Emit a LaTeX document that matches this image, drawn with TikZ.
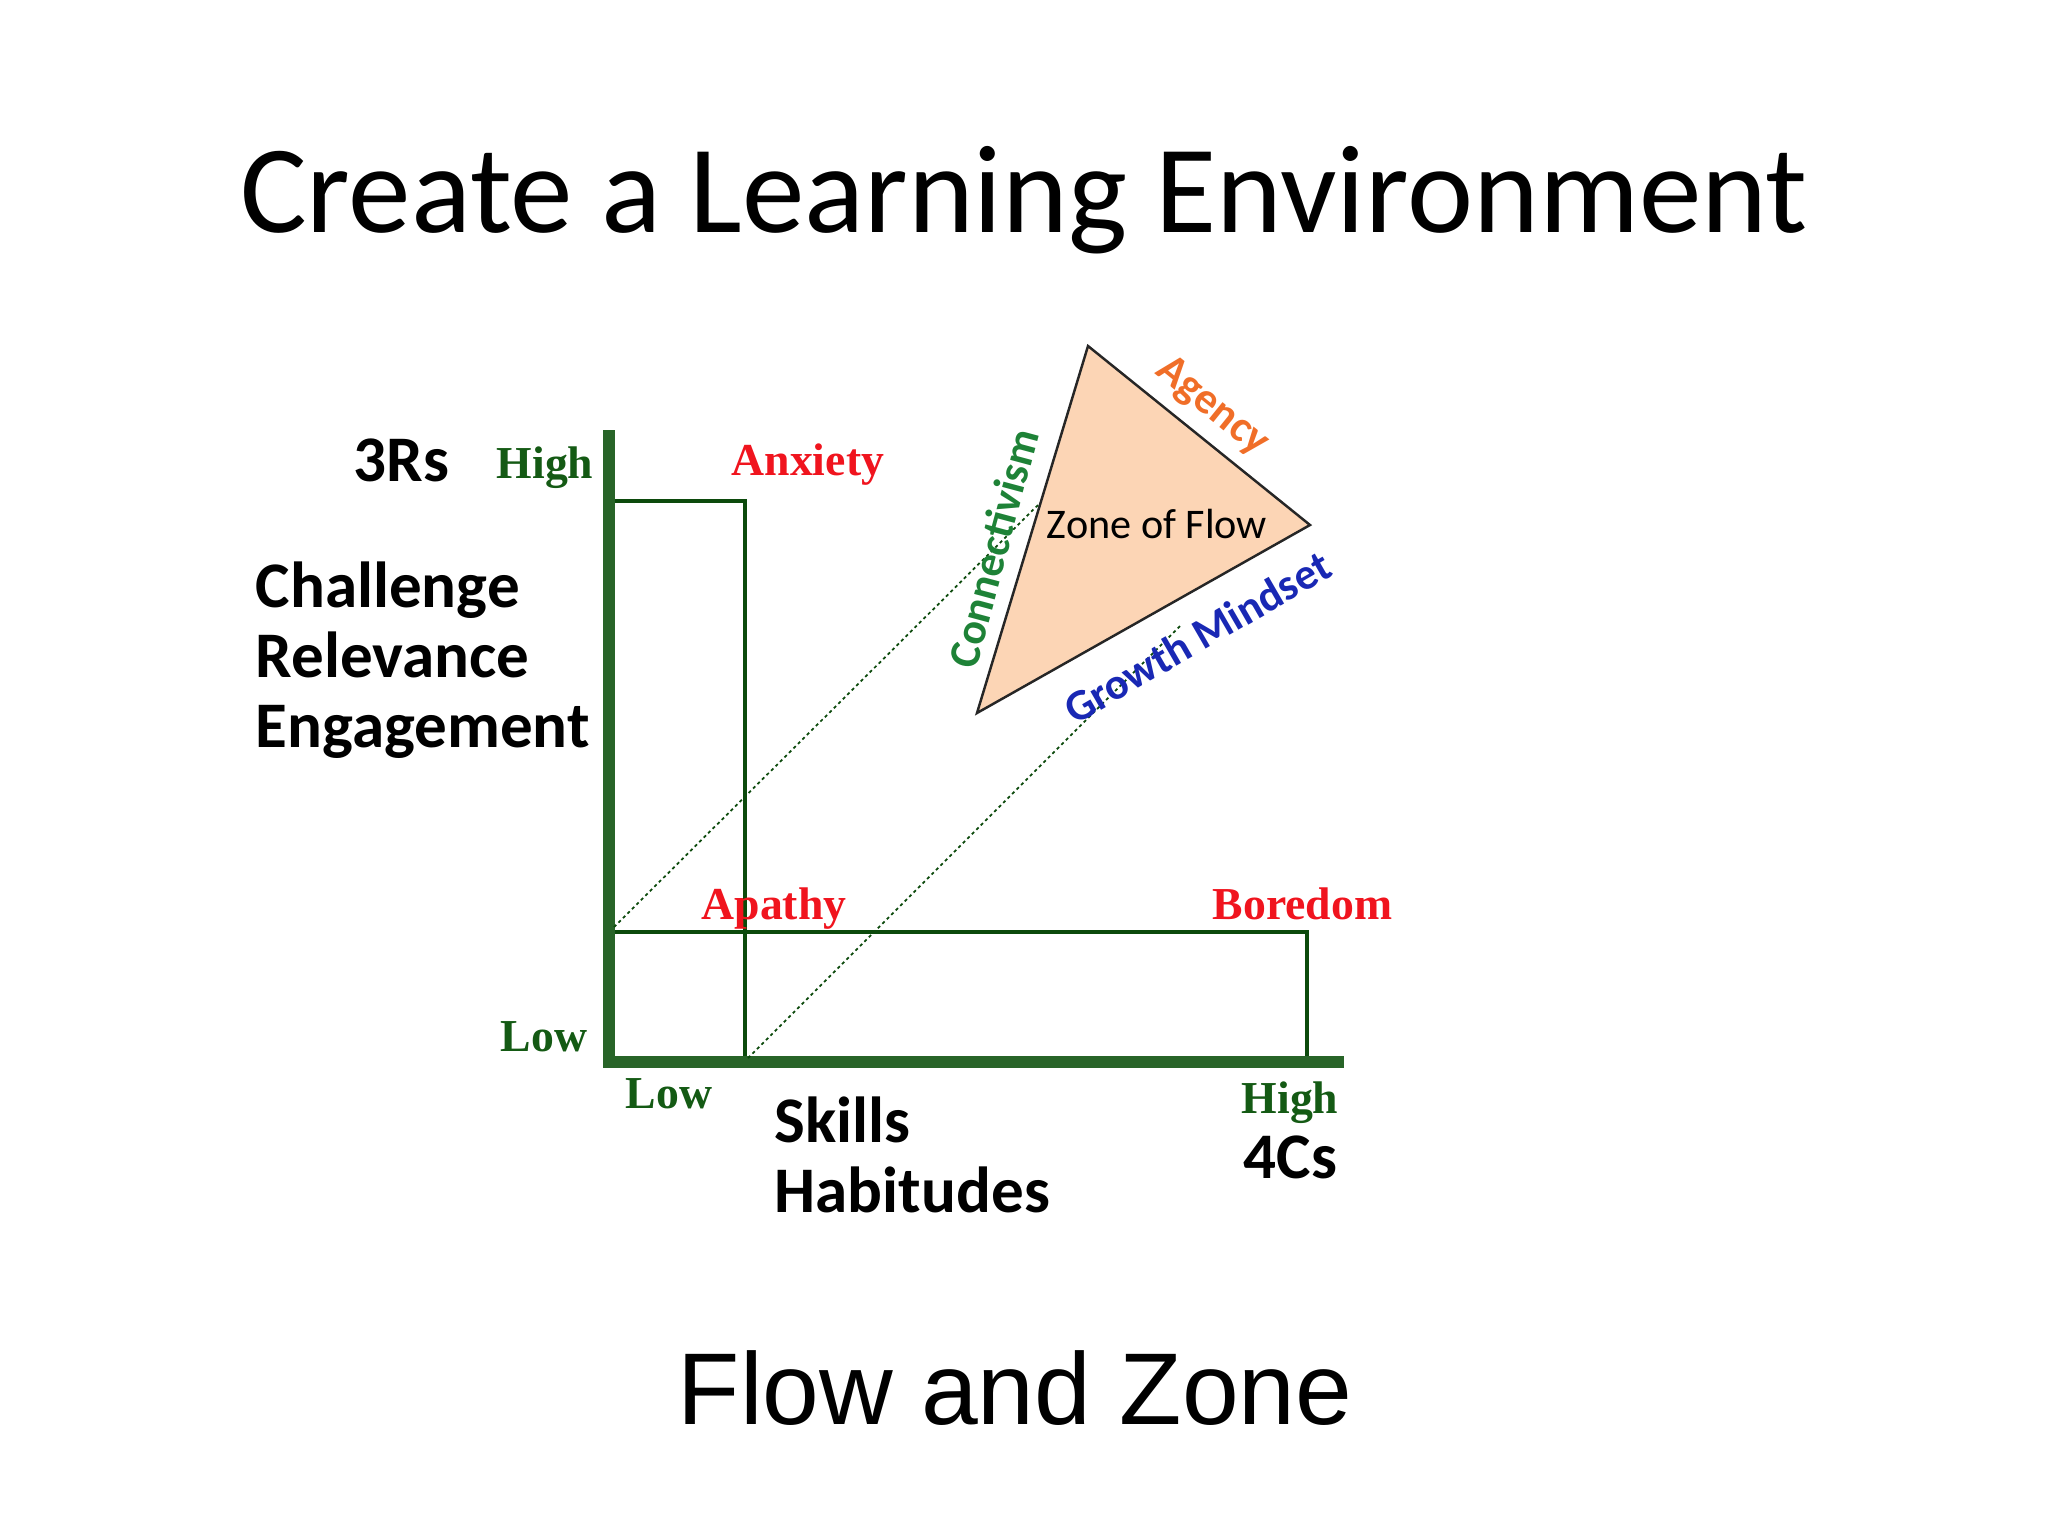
\documentclass[tikz,border=0pt]{standalone}
\usepackage{fontspec}
\setmainfont{Carlito}
\newfontfamily\labelfont{Liberation Serif}
\newfontfamily\captionfont{Liberation Sans}
\definecolor{axisgreen}{RGB}{40,100,40}
\definecolor{linegreen}{RGB}{12,74,12}
\definecolor{levelgreen}{RGB}{20,90,20}
\definecolor{statered}{RGB}{240,20,30}
\definecolor{zonefill}{RGB}{252,213,181}
\definecolor{agencyorange}{RGB}{240,110,40}
\definecolor{connectgreen}{RGB}{30,130,55}
\definecolor{mindsetblue}{RGB}{25,40,180}

\begin{document}
\begin{tikzpicture}[x=0.01cm, y=-0.01cm,
	axis/.style={draw=axisgreen, line width=3.2pt, line cap=rect},
	zoneline/.style={draw=linegreen, line width=1pt},
	diagline/.style={draw=linegreen, line width=0.5pt, dash pattern=on 0.9pt off 0.9pt},
	heading/.style={inner sep=0pt, align=left, font=\bfseries\fontsize{18.5}{19.9}\selectfont},
	level/.style={inner sep=0pt, text=levelgreen, font=\labelfont\bfseries\fontsize{13}{15}\selectfont},
	state/.style={inner sep=0pt, text=statered, font=\labelfont\bfseries\fontsize{13}{15}\selectfont},
	side/.style={inner sep=0pt, font=\bfseries\fontsize{12.5}{14}\selectfont}]
	\useasboundingbox (0, 0) rectangle (2048, 1536);
	% Titles:
	\node[inner sep=0pt, font=\fontsize{35.6}{40}\selectfont] (title) at (1024, 200){Create a Learning Environment};
	\node[inner sep=0pt, font=\captionfont\fontsize{29}{32}\selectfont] (caption) at (1015, 1388){Flow and Zone};
	% Axes and zone lines:
	\coordinate (ytop) at (609, 436);
	\coordinate (origin) at (609, 1062);
	\coordinate (xend) at (1338, 1062);
	\coordinate (hiA) at (609, 501);
	\coordinate (hiB) at (745, 501);
	\coordinate (hiC) at (745, 1062);
	\coordinate (midA) at (609, 932);
	\coordinate (midB) at (1307, 932);
	\coordinate (midC) at (1307, 1062);
	\draw[zoneline] (hiA) -- (hiB) -- (hiC);
	\draw[zoneline] (midA) -- (midB) -- (midC);
	\draw[axis] (ytop) -- (origin) -- (xend);
	% Zone of flow:
	\coordinate (ztop) at (1088, 346);
	\coordinate (zright) at (1310, 525);
	\coordinate (zleft) at (977, 713);
	\draw[black!85, line width=0.7pt, fill=zonefill] (ztop) -- (zright) -- (zleft) -- cycle;
	\coordinate (dA) at (614, 927);
	\coordinate (dB) at (1040, 503);
	\coordinate (eA) at (748, 1058);
	\coordinate (eB) at (1180, 626);
	\draw[diagline] (dA) -- (dB);
	\draw[diagline] (eA) -- (eB);
	\node[inner sep=0pt, font=\fontsize{12}{14}\selectfont] (zone) at (1157, 524){Zone of Flow};
	\node[side, text=agencyorange, rotate=-39] (agency) at (1212, 407){Agency};
	\node[side, text=connectgreen, rotate=75] (connect) at (993, 548){Connectivism};
	\node[side, text=mindsetblue, rotate=30] (mindset) at (1197, 637){Growth Mindset};
	% Axis labels:
	\node[heading, anchor=mid west] (rs) at (353, 473){3Rs};
	\node[heading, anchor=west] (rsnames) at (255, 660){Challenge\\Relevance\\Engagement};
	\node[heading, anchor=west] (cs) at (774, 1155){Skills\\Habitudes};
	\node[heading, anchor=mid west] (csname) at (1243, 1170){4Cs};
	\node[level, anchor=mid east] (yhigh) at (594, 470){High};
	\node[level, anchor=mid east] (ylow) at (588, 1043){Low};
	\node[level, anchor=mid west] (xlow) at (625, 1100){Low};
	\node[level, anchor=mid east] (xhigh) at (1339, 1105){High};
	\node[state, anchor=mid west] (anxiety) at (731, 467){Anxiety};
	\node[state, anchor=mid west] (apathy) at (701, 911){Apathy};
	\node[state, anchor=mid west] (boredom) at (1212, 911){Boredom};
\end{tikzpicture}
\end{document}
